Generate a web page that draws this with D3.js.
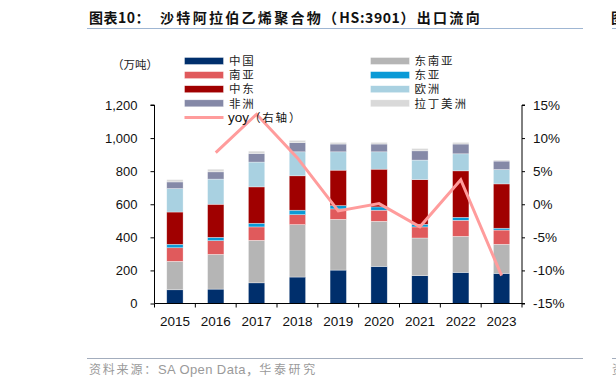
<!DOCTYPE html>
<html>
<head>
<meta charset="utf-8">
<script src="https://cdn.jsdelivr.net/npm/d3@7"></script>
<style>
  body { margin: 0; background: #fff; }
  svg { display: block; }
  text { font-family: "Liberation Sans", Arial, "Noto Sans CJK SC", sans-serif; }
  .cjk { font-family: "Noto Sans CJK SC", sans-serif; }
</style>
</head>
<body>
<svg id="chart" width="616" height="388"></svg>
<script>
// data (万吨 / %)
const years = ['2015', '2016', '2017', '2018', '2019', '2020', '2021', '2022', '2023']
const china        = [83, 87, 125, 160, 202, 224, 168, 188, 182]
const southeastAsia = [172, 210, 257, 317, 307, 273, 228, 218, 176]
const southAsia    = [82, 83, 81, 60, 63, 67, 67, 97, 86]
const eastAsia     = [21, 20, 22, 27, 20, 20, 16, 18, 11]
const middleEast   = [195, 200, 220, 208, 214, 228, 270, 281, 268]
const europe       = [142, 152, 150, 145, 111, 105, 118, 103, 87]
const africa       = [40, 44, 52, 55, 47, 47, 56, 59, 51]
const latinAmerica = [14, 16, 14, 14, 10, 10, 14, 10, 6]
const yoy = [null, 7.8, 13.6, 7.0, -1.0, 0.1, -3.4, 3.7, -10.8]

const seriesKeys   = ['china', 'seAsia', 'sAsia', 'eAsia', 'mEast', 'europe', 'africa', 'latam']
const seriesLabels = ['中国', '东南亚', '南亚', '东亚', '中东', '欧洲', '非洲', '拉丁美洲']
const seriesColors = ['#002f6c', '#b5b5b5', '#e05a5c', '#0a9ad6', '#a00000', '#a9d1e1', '#8589a7', '#d9d9d9']
const leftTicks  = [0, 200, 400, 600, 800, 1000, 1200]
const rightTicks = [-15, -10, -5, 0, 5, 10, 15]

const rows = years.map((y, i) => ({
  year: y,
  china: china[i], seAsia: southeastAsia[i], sAsia: southAsia[i], eAsia: eastAsia[i],
  mEast: middleEast[i], europe: europe[i], africa: africa[i], latam: latinAmerica[i]
}))

const svg = d3.select('#chart')
const plotLeft = 154.5, plotRight = 522, plotTop = 105, plotBottom = 303.5

const x = d3.scaleBand().domain(years).range([plotLeft, plotRight])
const y = d3.scaleLinear().domain([0, 1200]).range([plotBottom, plotTop])
const y2 = d3.scaleLinear().domain([-15, 15]).range([plotBottom, plotTop])
const color = d3.scaleOrdinal(seriesKeys, seriesColors)

// title + rules
const title = svg.append('text').attr('x', 89).attr('y', 23)
  .attr('font-size', 14).attr('font-weight', 'bold').attr('fill', '#111')
  .attr('class', 'cjk')
title.append('tspan').attr('letter-spacing', 0.5).text('图表10：')
title.append('tspan').attr('dx', 10).attr('letter-spacing', 2.3).text('沙特阿拉伯乙烯聚合物（')
title.append('tspan').attr('letter-spacing', 0.6).text('HS:3901')
title.append('tspan').attr('letter-spacing', 2.3).text('）出口流向')
svg.append('text').attr('x', 611).attr('y', 23).attr('class', 'cjk')
  .attr('font-size', 14).attr('font-weight', 'bold').attr('fill', '#111').text('图')
svg.append('line').attr('x1', 87).attr('x2', 583).attr('y1', 28.5).attr('y2', 28.5)
  .attr('stroke', '#9fb6d3').attr('stroke-width', 1)
svg.append('line').attr('x1', 612).attr('x2', 616).attr('y1', 28.5).attr('y2', 28.5)
  .attr('stroke', '#9fb6d3').attr('stroke-width', 1)

// footer
svg.append('line').attr('x1', 87).attr('x2', 583).attr('y1', 358.5).attr('y2', 358.5)
  .attr('stroke', '#a3adbd').attr('stroke-width', 1)
svg.append('line').attr('x1', 612).attr('x2', 616).attr('y1', 358.5).attr('y2', 358.5)
  .attr('stroke', '#a3adbd').attr('stroke-width', 1)
const foot = svg.append('text').attr('x', 89).attr('y', 373.5).attr('font-size', 12).attr('fill', '#9a9a9a')
foot.append('tspan').attr('letter-spacing', 1.8).text('资料来源：')
foot.append('tspan').attr('font-size', 13).attr('letter-spacing', 0.4).text('SA Open Data，')
foot.append('tspan').attr('letter-spacing', 2.6).text('华泰研究')
svg.append('text').attr('x', 612).attr('y', 373.5).attr('font-size', 12).attr('fill', '#9a9a9a')
  .text('资')

// unit
svg.append('text').attr('x', 112).attr('y', 69).attr('font-size', 11.5).attr('fill', '#222')
  .text('（万吨）')

// stacked bars
const stacked = d3.stack().keys(seriesKeys)(rows)
const barW = x.bandwidth() * 0.4
svg.append('g').selectAll('g')
  .data(stacked)
  .join('g')
  .attr('fill', d => color(d.key))
  .selectAll('rect')
  .data(d => d)
  .join('rect')
  .attr('x', d => x(d.data.year) + (x.bandwidth() - barW) / 2)
  .attr('y', d => y(d[1]))
  .attr('width', barW)
  .attr('height', d => y(d[0]) - y(d[1]))
  .attr('stroke', 'rgba(255,255,255,0.55)')
  .attr('stroke-width', 0.6)

// yoy line (right axis)
const line = d3.line()
  .defined(d => d.v !== null)
  .x(d => x(d.year) + x.bandwidth() / 2)
  .y(d => y2(d.v))
svg.append('path')
  .datum(years.map((yr, i) => ({ year: yr, v: yoy[i] })))
  .attr('fill', 'none').attr('stroke', '#ff9c9c').attr('stroke-width', 3)
  .attr('stroke-linejoin', 'miter')
  .attr('d', line)

// left axis
svg.append('g')
  .attr('transform', `translate(${plotLeft},0)`)
  .call(d3.axisLeft(y).tickValues(leftTicks).tickSize(4).tickPadding(13)
    .tickFormat(d3.format(',')))
  .call(g => g.select('.domain').attr('d', `M-4,${plotTop}H0V${plotBottom}`))
  .call(g => g.selectAll('text').attr('font-size', 13).attr('fill', '#111')
    .style('font-family', '"Liberation Sans", Arial, sans-serif'))

// right axis
svg.append('g')
  .attr('transform', `translate(${plotRight},0)`)
  .call(d3.axisRight(y2).tickValues(rightTicks).tickSize(3).tickPadding(8)
    .tickFormat(d => d + '%'))
  .call(g => g.select('.domain').attr('d', `M3,${plotTop}H0V${plotBottom}H3`))
  .call(g => g.selectAll('text').attr('font-size', 13.5).attr('fill', '#111')
    .style('font-family', '"Liberation Sans", Arial, sans-serif'))

// bottom axis: ticks between categories, labels centred
const xAxis = svg.append('g').attr('transform', `translate(0,${plotBottom})`)
xAxis.append('line').attr('x1', plotLeft).attr('x2', plotRight).attr('stroke', '#000')
xAxis.selectAll('line.tk')
  .data(years.concat(['end']))
  .join('line').attr('class', 'tk')
  .attr('x1', (d, i) => plotLeft + i * x.step()).attr('x2', (d, i) => plotLeft + i * x.step())
  .attr('y1', 0).attr('y2', 4).attr('stroke', '#000')
xAxis.selectAll('text')
  .data(years)
  .join('text')
  .attr('x', d => x(d) + x.bandwidth() / 2)
  .attr('y', 22)
  .attr('text-anchor', 'middle')
  .attr('font-size', 13.5).attr('fill', '#111')
  .text(d => d)

// legend
const legendItems = seriesKeys.map((k, i) => ({ key: k, label: seriesLabels[i] }))
const col1 = ['china', 'sAsia', 'mEast', 'africa']
const col2 = ['seAsia', 'eAsia', 'europe', 'latam']
const rowY = i => 61 + i * 14.1
const legend = svg.append('g')
function addEntry(item, sx, tx, cy) {
  legend.append('rect').attr('x', sx).attr('y', cy - 3.5).attr('width', 39).attr('height', 7)
    .attr('fill', color(item.key)).attr('stroke', 'rgba(255,255,255,0.6)').attr('stroke-width', 0.6)
  legend.append('text').attr('x', tx).attr('y', cy + 4.2)
    .attr('font-size', 11.5).attr('letter-spacing', 1.8).attr('fill', '#222').text(item.label)
}
col1.forEach((k, i) => addEntry(legendItems.find(d => d.key === k), 184.5, 229, rowY(i)))
col2.forEach((k, i) => addEntry(legendItems.find(d => d.key === k), 370.5, 414.5, rowY(i)))
legend.append('line').attr('x1', 184.5).attr('x2', 223.5).attr('y1', rowY(4)).attr('y2', rowY(4))
  .attr('stroke', '#ff9c9c').attr('stroke-width', 3)
const yoyText = legend.append('text').attr('x', 228).attr('y', rowY(4) + 4.5).attr('fill', '#111')
yoyText.append('tspan').attr('font-size', 13.5).text('yoy')
yoyText.append('tspan').attr('font-size', 11.5).attr('letter-spacing', 1.8)
  .text('（右轴）')
</script>
</body>
</html>
